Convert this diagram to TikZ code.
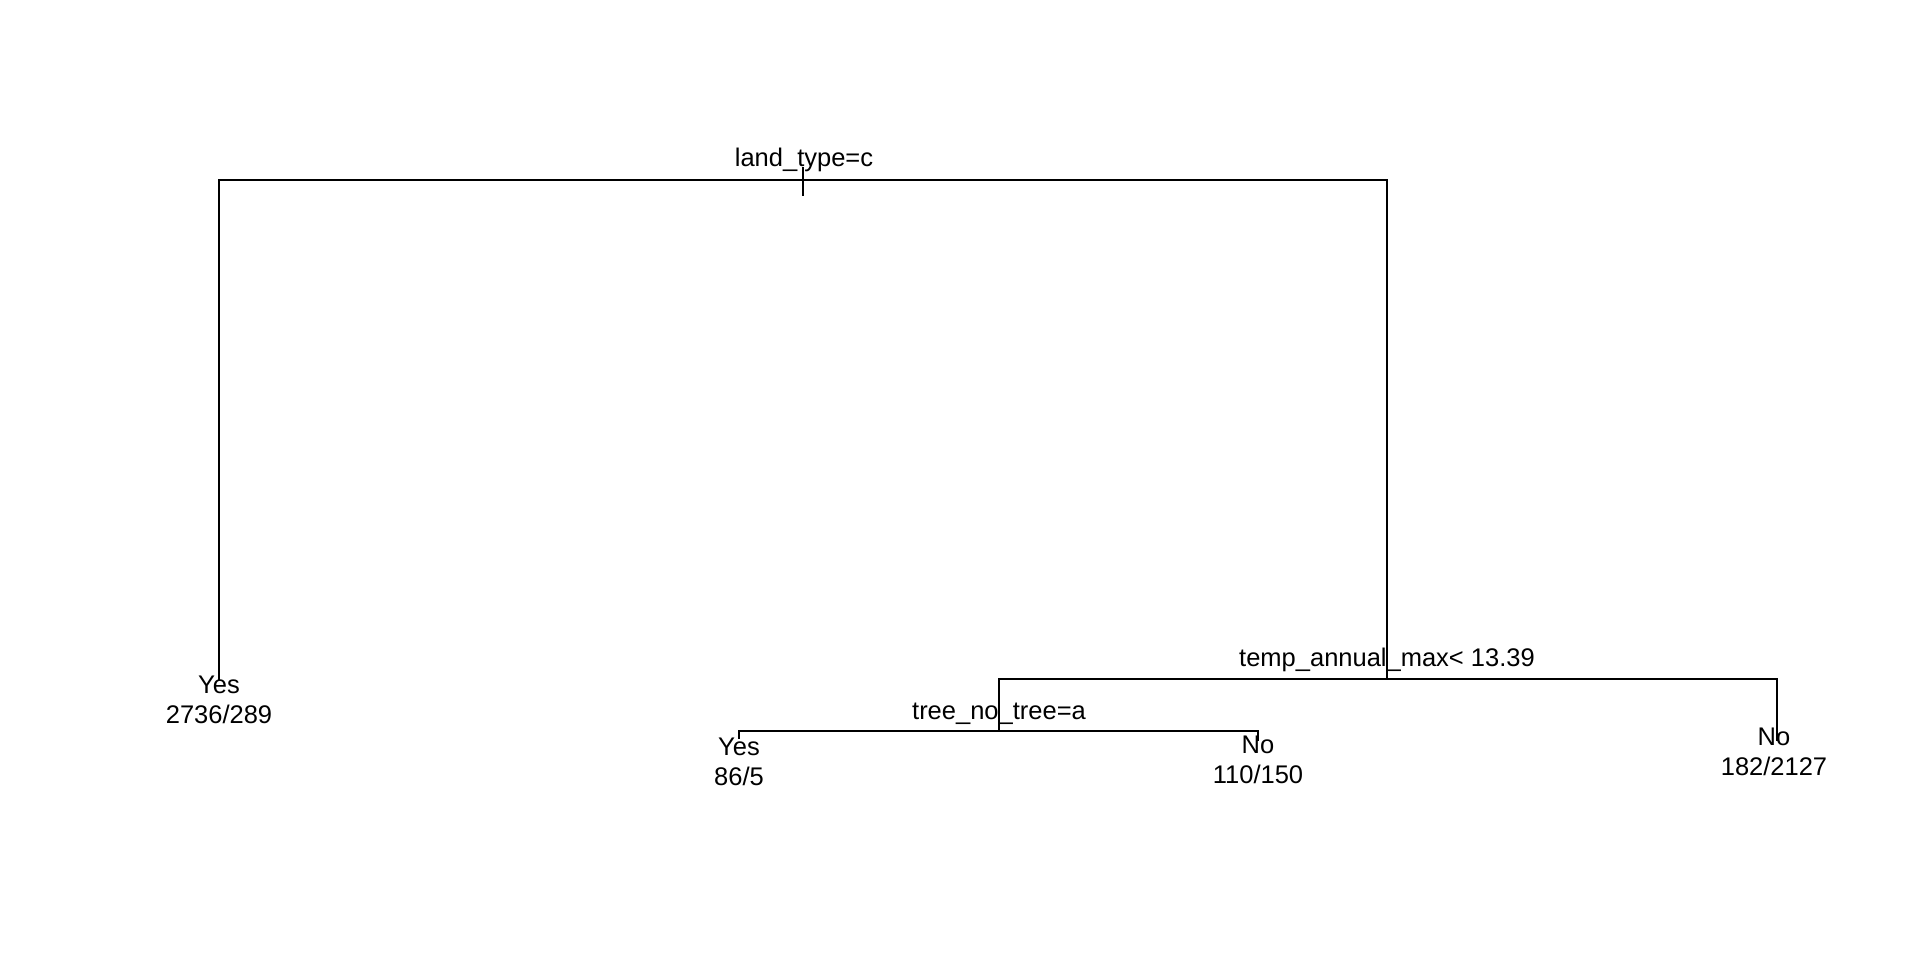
\documentclass[tikz,border=0pt]{standalone}
\usepackage{fontspec}
\setmainfont{Liberation Sans}
\begin{document}
\begin{tikzpicture}[x=1pt,y=-1pt,
  edge/.style={line width=2pt,line cap=rect},
  lbl/.style={anchor=base,inner sep=0pt,font=\fontsize{25.5}{30}\selectfont}]
\useasboundingbox[fill=white] (0,0) rectangle (1920,960);
% node positions
\coordinate (root) at (803,180);
\coordinate (roottop) at (803,168);
\coordinate (roottick) at (803,195);
\coordinate (leafA) at (219,679);
\coordinate (n2) at (1387,679);
\coordinate (n3) at (999,731);
\coordinate (leafB) at (739,738);
\coordinate (leafC) at (1258,740);
\coordinate (leafD) at (1777,740);
% connectors
\draw[edge] (roottop) -- (roottick);
\draw[edge] (leafA) |- (root) -| (n2);
\draw[edge] (n3) |- (n2) -| (leafD);
\draw[edge] (leafB) |- (n3) -| (leafC);
% split labels
\node[lbl] (s1) at (804,167) {land\_type=c};
\node[lbl] (s2) at (1387,666) {temp\_annual\_max< 13.39};
\node[lbl] (s3) at (999,719) {tree\_no\_tree=a};
% leaf labels
\node[lbl] (yA) at (219,693) {Yes};
\node[lbl] (cA) at (219,723) {2736/289};
\node[lbl] (yB) at (739,755) {Yes};
\node[lbl] (cB) at (739,785) {86/5};
\node[lbl] (yC) at (1258,753) {No};
\node[lbl] (cC) at (1258,783) {110/150};
\node[lbl] (yD) at (1774,745) {No};
\node[lbl] (cD) at (1774,775) {182/2127};
\end{tikzpicture}
\end{document}
